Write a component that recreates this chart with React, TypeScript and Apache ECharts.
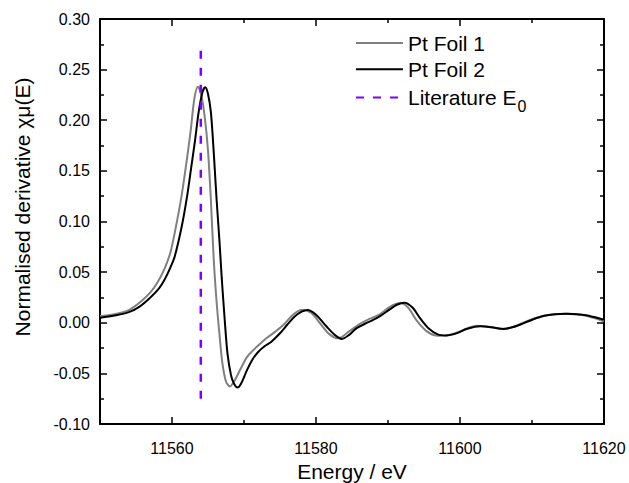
import React, { useEffect, useRef } from "react";
import * as echarts from "echarts";

const FONT = '"Liberation Sans", Arial, sans-serif';

// Energy (eV) / normalised derivative pairs
const ptFoil1: [number, number][] = [
  [11550, 0.0066], [11552, 0.0085], [11554, 0.0125], [11555.6, 0.0205], [11557, 0.03],
  [11558, 0.04], [11559, 0.054], [11559.8, 0.07], [11560.55, 0.095], [11561.3, 0.124],
  [11562, 0.158], [11562.6, 0.19], [11563.1, 0.221], [11563.6, 0.233], [11564.1, 0.224],
  [11564.6, 0.2], [11565.0, 0.17], [11565.4, 0.121], [11565.8, 0.062], [11566.2, 0.02],
  [11566.6, -0.012], [11567.0, -0.04], [11567.5, -0.058], [11568.05, -0.063], [11568.7, -0.057],
  [11569.5, -0.046], [11570.4, -0.034], [11571.3, -0.027], [11572.2, -0.021], [11573.1, -0.0154],
  [11574.3, -0.009], [11575.5, -0.002], [11576.8, 0.008], [11578.0, 0.0126], [11579.3, 0.01],
  [11580.5, 0.0], [11581.8, -0.011], [11583.1, -0.0154], [11584.5, -0.009], [11586.1, -0.001],
  [11587.5, 0.004], [11588.9, 0.0085], [11590.3, 0.016], [11591.7, 0.0195], [11592.8, 0.015],
  [11594.0, 0.002], [11595.3, -0.008], [11596.6, -0.0125], [11597.7, -0.0128], [11599.0, -0.011],
  [11600.5, -0.007], [11602.3, -0.003], [11604, -0.004], [11606, -0.006], [11607.5, -0.004],
  [11608.8, 0.0], [11610.2, 0.004], [11611.6, 0.007], [11613.2, 0.0085], [11614.8, 0.0088],
  [11616.2, 0.0085], [11617.5, 0.007], [11619, 0.004], [11620, 0.0015],
];

const ptFoil2: [number, number][] = [
  [11550, 0.005], [11552, 0.0072], [11554, 0.0105], [11555.5, 0.016], [11557, 0.025],
  [11558.2, 0.034], [11559, 0.043], [11559.8, 0.055], [11560.4, 0.066], [11561.35, 0.095],
  [11562.1, 0.125], [11562.7, 0.155], [11563.2, 0.18], [11563.7, 0.208], [11564.2, 0.227],
  [11564.6, 0.2325], [11565.0, 0.226], [11565.4, 0.208], [11565.8, 0.168], [11566.2, 0.121],
  [11566.6, 0.08], [11566.9, 0.045], [11567.3, 0.005], [11567.7, -0.03], [11568.2, -0.052],
  [11568.6, -0.06], [11569.1, -0.064], [11569.6, -0.06], [11570.4, -0.047], [11571.2, -0.036],
  [11572, -0.0286], [11572.9, -0.023], [11573.8, -0.0187], [11575, -0.0104], [11576, -0.002],
  [11577, 0.006], [11578, 0.011], [11578.8, 0.0126], [11580, 0.008], [11581.5, -0.004],
  [11582.6, -0.012], [11583.6, -0.016], [11584.6, -0.012], [11585.6, -0.0055], [11586.8, -0.001],
  [11588, 0.003], [11589, 0.007], [11590.2, 0.013], [11591.3, 0.018], [11592.3, 0.0198],
  [11593.4, 0.015], [11594.5, 0.004], [11595.7, -0.006], [11596.9, -0.0115], [11598.1, -0.0125],
  [11599.5, -0.0105], [11601, -0.006], [11602.8, -0.0035], [11604.4, -0.0045], [11606, -0.0062],
  [11607.5, -0.004], [11608.8, -0.0006], [11610.2, 0.0035], [11611.6, 0.0067], [11613.2, 0.0083],
  [11614.8, 0.0088], [11616.2, 0.0085], [11617.5, 0.0075], [11619, 0.005], [11620, 0.003],
];

const literatureE0: [number, number][] = [
  [11564, -0.075],
  [11564, 0.275],
];

const xMajorTicks = [11560, 11580, 11600, 11620];
const xMinorTicks = [11550, 11570, 11590, 11610];

const seriesNames = ["Pt Foil 1", "Pt Foil 2", "Literature E0"];

export default function App() {
  const ref = useRef<HTMLDivElement>(null);

  useEffect(() => {
    document.body.style.margin = "0";
    if (!ref.current) return;
    const chart = echarts.init(ref.current, null, { renderer: "svg" });

    const axisLine = { show: true, onZero: false, lineStyle: { color: "#000", width: 2 } };
    const hiddenLine = { show: false, onZero: false };
    const tickStyle = { color: "#000", width: 1.5 };
    const baseX = {
      type: "value" as const,
      min: 11550,
      max: 11620,
      splitLine: { show: false },
    };
    const baseY = {
      type: "value" as const,
      min: -0.1,
      max: 0.3,
      interval: 0.05,
      splitLine: { show: false },
    };

    chart.setOption({
      animation: false,
      backgroundColor: "#fff",
      grid: {
        left: 100,
        right: 25,
        top: 19,
        bottom: 59,
        containLabel: false,
        outerBoundsMode: "none",
      },
      xAxis: [
        {
          ...baseX,
          position: "bottom",
          axisLine,
          axisTick: { show: true, inside: true, length: 7, customValues: xMajorTicks, lineStyle: tickStyle },
          axisLabel: {
            show: true,
            customValues: xMajorTicks,
            color: "#000",
            fontSize: 16,
            fontFamily: FONT,
            margin: 16,
            formatter: (v: number) => String(v),
          },
          name: "Energy / eV",
          nameLocation: "middle",
          nameGap: 34,
          nameTextStyle: { color: "#000", fontSize: 21, fontFamily: FONT, verticalAlign: "top" },
        },
        {
          ...baseX,
          position: "bottom",
          axisLine: hiddenLine,
          axisTick: { show: true, inside: true, length: 4, customValues: xMinorTicks, lineStyle: tickStyle },
          axisLabel: { show: false },
        },
        {
          ...baseX,
          position: "top",
          axisLine,
          axisTick: { show: true, inside: true, length: 7, customValues: xMajorTicks, lineStyle: tickStyle },
          axisLabel: { show: false },
        },
        {
          ...baseX,
          position: "top",
          axisLine: hiddenLine,
          axisTick: { show: true, inside: true, length: 4, customValues: xMinorTicks, lineStyle: tickStyle },
          axisLabel: { show: false },
        },
      ],
      yAxis: [
        {
          ...baseY,
          position: "left",
          axisLine,
          axisTick: { show: true, inside: true, length: 7, lineStyle: tickStyle },
          minorTick: { show: true, splitNumber: 2, length: 4, lineStyle: tickStyle },
          axisLabel: {
            show: true,
            color: "#000",
            fontSize: 16,
            fontFamily: FONT,
            margin: 10,
            formatter: (v: number) => v.toFixed(2),
          },
        },
        {
          ...baseY,
          position: "right",
          axisLine,
          axisTick: { show: true, inside: true, length: 7, lineStyle: tickStyle },
          minorTick: { show: true, splitNumber: 2, length: 4, lineStyle: tickStyle },
          axisLabel: { show: false },
        },
      ],
      legend: {
        orient: "vertical",
        left: 355,
        top: 28,
        padding: 0,
        itemWidth: 47,
        itemHeight: 20,
        itemGap: -3.7,
        data: seriesNames,
        itemStyle: { opacity: 0 },
        formatter: (name: string) => (name === "Literature E0" ? "Literature E{sub|0}" : name),
        textStyle: {
          color: "#000",
          fontSize: 21,
          fontFamily: FONT,
          lineHeight: 30,
          rich: {
            sub: { fontSize: 16, fontFamily: FONT, color: "#000", padding: [18, 0, 0, 1], lineHeight: 12 },
          },
        },
      },
      graphic: [
        {
          type: "text",
          x: 22,
          y: 207,
          rotation: Math.PI / 2,
          style: {
            text: "Normalised derivative χμ(E)",
            font: `21px ${FONT}`,
            fill: "#000",
            textAlign: "center",
            textVerticalAlign: "middle",
          },
        },
      ],
      series: [
        {
          name: seriesNames[0],
          type: "line",
          data: ptFoil1,
          smooth: 0.3,
          symbol: "none",
          showSymbol: false,
          lineStyle: { color: "#808080", width: 2 },
          itemStyle: { color: "#808080" },
          z: 2,
        },
        {
          name: seriesNames[1],
          type: "line",
          data: ptFoil2,
          smooth: 0.3,
          symbol: "none",
          showSymbol: false,
          lineStyle: { color: "#000000", width: 2 },
          itemStyle: { color: "#000000" },
          z: 3,
        },
        {
          name: seriesNames[2],
          type: "line",
          data: literatureE0,
          symbol: "none",
          showSymbol: false,
          lineStyle: { color: "#8000ff", width: 2.5, type: [8, 9] },
          itemStyle: { color: "#8000ff" },
          z: 4,
        },
      ],
    });

    return () => chart.dispose();
  }, []);

  return <div ref={ref} style={{ width: 629, height: 483 }} />;
}
